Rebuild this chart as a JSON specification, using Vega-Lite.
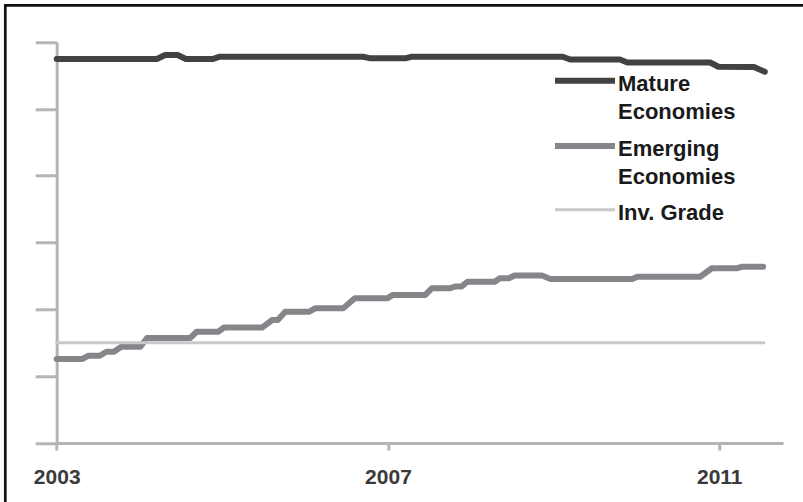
{
  "$schema": "https://vega.github.io/schema/vega-lite/v6.json",
  "width": 797.7,
  "height": 496.7,
  "autosize": {"type": "none"},
  "padding": {"left": 5.3, "top": 5.3, "right": 0, "bottom": 0},
  "background": "white",
  "config": {
    "view": {"stroke": "#111111", "strokeWidth": 2.7, "strokeDash": [797.7, 1294.4, 500, 1]},
    "font": "Liberation Sans",
    "style": {"guide-label": {"lineHeight": 28}}
  },
  "data": {
    "values": [
      {"series": "Mature Economies", "t": 2003.00, "v": 22.98},
      {"series": "Mature Economies", "t": 2004.21, "v": 22.98},
      {"series": "Mature Economies", "t": 2004.31, "v": 23.22},
      {"series": "Mature Economies", "t": 2004.46, "v": 23.22},
      {"series": "Mature Economies", "t": 2004.56, "v": 22.98},
      {"series": "Mature Economies", "t": 2004.88, "v": 22.98},
      {"series": "Mature Economies", "t": 2004.97, "v": 23.12},
      {"series": "Mature Economies", "t": 2006.70, "v": 23.12},
      {"series": "Mature Economies", "t": 2006.79, "v": 23.02},
      {"series": "Mature Economies", "t": 2007.21, "v": 23.02},
      {"series": "Mature Economies", "t": 2007.29, "v": 23.12},
      {"series": "Mature Economies", "t": 2009.11, "v": 23.12},
      {"series": "Mature Economies", "t": 2009.20, "v": 22.95},
      {"series": "Mature Economies", "t": 2009.80, "v": 22.95},
      {"series": "Mature Economies", "t": 2009.89, "v": 22.77},
      {"series": "Mature Economies", "t": 2010.89, "v": 22.77},
      {"series": "Mature Economies", "t": 2010.99, "v": 22.52},
      {"series": "Mature Economies", "t": 2011.42, "v": 22.50},
      {"series": "Mature Economies", "t": 2011.55, "v": 22.22},
      {"series": "Emerging Economies", "t": 2003.00, "v": 5.03},
      {"series": "Emerging Economies", "t": 2003.31, "v": 5.03},
      {"series": "Emerging Economies", "t": 2003.38, "v": 5.22},
      {"series": "Emerging Economies", "t": 2003.52, "v": 5.22},
      {"series": "Emerging Economies", "t": 2003.60, "v": 5.46},
      {"series": "Emerging Economies", "t": 2003.69, "v": 5.46},
      {"series": "Emerging Economies", "t": 2003.78, "v": 5.76},
      {"series": "Emerging Economies", "t": 2004.01, "v": 5.76},
      {"series": "Emerging Economies", "t": 2004.09, "v": 6.28},
      {"series": "Emerging Economies", "t": 2004.61, "v": 6.28},
      {"series": "Emerging Economies", "t": 2004.69, "v": 6.66},
      {"series": "Emerging Economies", "t": 2004.95, "v": 6.66},
      {"series": "Emerging Economies", "t": 2005.02, "v": 6.91},
      {"series": "Emerging Economies", "t": 2005.48, "v": 6.91},
      {"series": "Emerging Economies", "t": 2005.60, "v": 7.36},
      {"series": "Emerging Economies", "t": 2005.67, "v": 7.36},
      {"series": "Emerging Economies", "t": 2005.76, "v": 7.86},
      {"series": "Emerging Economies", "t": 2006.05, "v": 7.86},
      {"series": "Emerging Economies", "t": 2006.12, "v": 8.06},
      {"series": "Emerging Economies", "t": 2006.46, "v": 8.06},
      {"series": "Emerging Economies", "t": 2006.60, "v": 8.66},
      {"series": "Emerging Economies", "t": 2006.99, "v": 8.66},
      {"series": "Emerging Economies", "t": 2007.06, "v": 8.86},
      {"series": "Emerging Economies", "t": 2007.45, "v": 8.86},
      {"series": "Emerging Economies", "t": 2007.53, "v": 9.26},
      {"series": "Emerging Economies", "t": 2007.75, "v": 9.26},
      {"series": "Emerging Economies", "t": 2007.81, "v": 9.37},
      {"series": "Emerging Economies", "t": 2007.89, "v": 9.37},
      {"series": "Emerging Economies", "t": 2007.96, "v": 9.65},
      {"series": "Emerging Economies", "t": 2008.29, "v": 9.65},
      {"series": "Emerging Economies", "t": 2008.35, "v": 9.86},
      {"series": "Emerging Economies", "t": 2008.46, "v": 9.86},
      {"series": "Emerging Economies", "t": 2008.53, "v": 10.02},
      {"series": "Emerging Economies", "t": 2008.86, "v": 10.02},
      {"series": "Emerging Economies", "t": 2008.96, "v": 9.82},
      {"series": "Emerging Economies", "t": 2009.95, "v": 9.82},
      {"series": "Emerging Economies", "t": 2010.01, "v": 9.95},
      {"series": "Emerging Economies", "t": 2010.77, "v": 9.95},
      {"series": "Emerging Economies", "t": 2010.91, "v": 10.46},
      {"series": "Emerging Economies", "t": 2011.22, "v": 10.46},
      {"series": "Emerging Economies", "t": 2011.28, "v": 10.55},
      {"series": "Emerging Economies", "t": 2011.53, "v": 10.55},
      {"series": "Inv. Grade", "t": 2003.00, "v": 6.0},
      {"series": "Inv. Grade", "t": 2011.54, "v": 6.0}
    ]
  },
  "mark": {"type": "line", "strokeCap": "round", "strokeJoin": "round"},
  "encoding": {
    "x": {
      "field": "t",
      "type": "quantitative",
      "scale": {"domain": [2003, 2011.77], "range": [51.4, 777.7], "nice": false, "zero": false},
      "axis": {
        "values": [2003, 2007, 2011],
        "format": "d",
        "title": null,
        "grid": false,
        "offset": -59,
        "domainColor": "#b4b4b6",
        "domainWidth": 3,
        "tickColor": "#b4b4b6",
        "tickWidth": 3,
        "tickSize": 7,
        "labelFont": "Liberation Sans",
        "labelFontWeight": "bold",
        "labelFontSize": 21,
        "labelColor": "#3a3a3a",
        "labelPadding": 16,
        "labelFlush": false,
        "labelOverlap": false
      }
    },
    "y": {
      "field": "v",
      "type": "quantitative",
      "scale": {"domain": [0, 24], "range": [437.7, 36.7], "nice": false, "zero": false},
      "axis": {
        "values": [0, 4, 8, 12, 16, 20, 24],
        "labels": false,
        "title": null,
        "grid": false,
        "offset": -51.4,
        "domainColor": "#b4b4b6",
        "domainWidth": 3,
        "tickColor": "#b4b4b6",
        "tickWidth": 3,
        "tickSize": 21.5
      }
    },
    "color": {
      "field": "series",
      "type": "nominal",
      "scale": {
        "domain": ["Mature Economies", "Emerging Economies", "Inv. Grade"],
        "range": ["#424242", "#86868a", "#c9c9c9"]
      },
      "legend": {
        "orient": "none",
        "legendX": 546.7,
        "legendY": 52.5,
        "title": null,
        "symbolType": "M-1,0.531H3.615",
        "symbolSize": 676,
        "labelFont": "Liberation Sans",
        "labelFontWeight": "bold",
        "labelFontSize": 22,
        "labelColor": "#1a1a1a",
        "labelOffset": 34,
        "labelBaseline": "top",
        "labelLimit": 300,
        "rowPadding": 0.3,
        "labelExpr": "datum.label == 'Mature Economies' ? ['Mature', 'Economies'] : datum.label == 'Emerging Economies' ? ['Emerging', 'Economies'] : datum.label"
      }
    },
    "strokeWidth": {
      "field": "series",
      "type": "nominal",
      "scale": {
        "type": "ordinal",
        "domain": ["Mature Economies", "Emerging Economies", "Inv. Grade"],
        "range": [6, 6, 3]
      }
    }
  }
}
